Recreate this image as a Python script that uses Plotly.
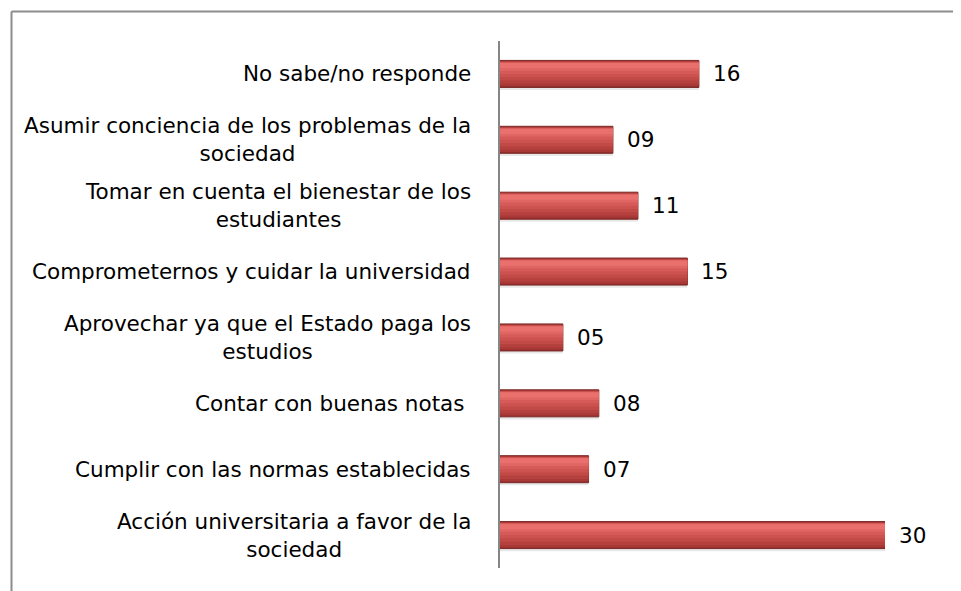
import plotly.graph_objects as go

# data (bottom to top, as drawn)
categories = [
    'Acción universitaria a favor de la<br>sociedad',
    'Cumplir con las normas establecidas',
    'Contar con buenas notas\u00a0',
    'Aprovechar ya que el Estado paga los<br>estudios',
    'Comprometernos y cuidar la universidad',
    'Tomar en cuenta el bienestar de los<br>estudiantes',
    'Asumir conciencia de los problemas de la<br>sociedad',
    'No sabe/no responde',
]
values = [30.0, 6.9, 7.7, 4.9, 14.6, 10.75, 8.8, 15.5]
value_labels = ['30', '07', '08', '05', '15', '11', '09', '16']

# page has an 8px body margin, so the figure is 953x583
W, H = 953, 583
L, R, T, B = 492, 76, 33, 23
pw = W - L - R
ph = H - T - B

fig = go.Figure()

# shadow, base and highlight layers to fake the bevelled gradient
# (color, bottom, top) in category units around each bar centre
layers = [
    ('rgba(0,0,0,0.09)', -0.245, 0.17),
    ('#962f2c', -0.205, 0.205),
    ('#a83936', -0.185, 0.195),
    ('#b5413e', -0.15, 0.19),
    ('#c14946', -0.10, 0.185),
    ('#cc524f', -0.05, 0.18),
    ('#d65b58', 0.0, 0.175),
    ('#e06663', 0.05, 0.17),
    ('#e9706d', 0.09, 0.165),
]
for i, (color, bot, top) in enumerate(layers):
    fig.add_trace(go.Bar(
        x=values, y=categories, orientation='h',
        width=top - bot, offset=bot,
        marker=dict(color=color,
                    line=dict(color='#7a2a28', width=1 if i == 1 else 0)),
        hoverinfo='skip', showlegend=False,
    ))

# category labels (centered lines, block right-aligned)
for cat in categories:
    fig.add_annotation(x=0, xref='paper', y=cat, yref='y',
                       text=cat, showarrow=False, xanchor='right',
                       align='center', xshift=-27,
                       font=dict(family='DejaVu Sans', size=21.5, color='#000000'))

# value labels
for v, lab, cat in zip(values, value_labels, categories):
    fig.add_annotation(x=v, xref='x', y=cat, yref='y',
                       text=lab, showarrow=False, xanchor='left',
                       xshift=12,
                       font=dict(family='DejaVu Sans', size=21.5, color='#000000'))

# outer frame (only left and top edges are visible)
def px(xp):
    return (xp - L) / pw

def py(yp):
    return (H - B - yp) / ph

frame = dict(color='#8c8c8c', width=2)
fig.add_shape(type='line', xref='paper', yref='paper',
              x0=px(3.5), x1=px(3.5), y0=py(3.5), y1=py(H + 5), line=frame)
fig.add_shape(type='line', xref='paper', yref='paper',
              x0=px(3.5), x1=px(W + 5), y0=py(3.5), y1=py(3.5), line=frame)

fig.update_layout(
    width=W, height=H,
    margin=dict(l=L, r=R, t=T, b=B),
    barmode='overlay',
    plot_bgcolor='white', paper_bgcolor='white',
    xaxis=dict(range=[0, 30.0 * pw / 385.0], visible=False, fixedrange=True),
    yaxis=dict(showticklabels=False, showline=True, linecolor='#868686',
               linewidth=1.5, ticks='', showgrid=False, zeroline=False,
               range=[-0.5, 7.5]),
)

fig.write_html('out.html')
